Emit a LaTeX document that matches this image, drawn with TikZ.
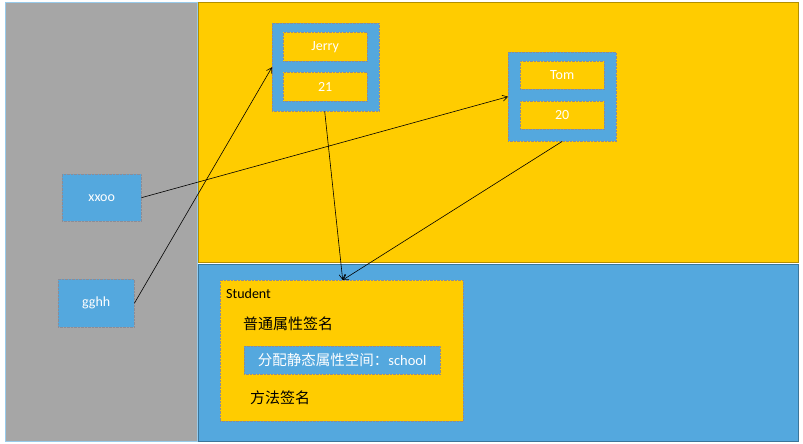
\documentclass[tikz,border=0pt]{standalone}
\usepackage{fontspec}
\setmainfont{Carlito}
\newfontfamily\cjk{Noto Sans CJK SC}
\usetikzlibrary{positioning,arrows.meta,calc}
\definecolor{PanelGray}{RGB}{166,166,166}
\definecolor{PanelYellow}{RGB}{255,204,0}
\definecolor{PanelBlue}{RGB}{84,168,222}
\definecolor{EdgeGray}{RGB}{140,140,150}
\tikzset{heap layout/.style={%
    y=-1pt,
    x=1pt,
    every node/.style={%
        inner sep=0pt, font=\fontsize{14}{16}\selectfont
    },
    ref/.style={%
        black, semithick, -{Straight Barb[length=5pt,width=6pt]}
    }
}}
\tikzset{cell/.style={%
    anchor=north west, draw=EdgeGray, densely dotted, text=white
}}
\tikzset{blue cell/.style={cell, fill=PanelBlue}}
\tikzset{yellow cell/.style={cell, fill=PanelYellow}}

\begin{document}
\begin{tikzpicture}[heap layout]
    \useasboundingbox (0,0) rectangle (803,444);
    % memory areas
    \node (stack) [cell, fill=PanelGray, draw=PanelBlue!60, solid, minimum width=192pt, minimum height=439pt] at (5,2) {};
    \node (heap) [cell, fill=PanelYellow, draw=PanelYellow!70!black, solid, minimum width=600pt, minimum height=260pt] at (198,2) {};
    \node (method) [cell, fill=PanelBlue, draw=PanelBlue!70!black, solid, minimum width=600pt, minimum height=177pt] at (198,264) {};

    % objects in the heap
    \node (jerry) [blue cell, minimum width=107pt, minimum height=88pt] at (272,23) {};
    \node (jname) [yellow cell, minimum width=84pt, minimum height=29pt] at (283,32) {Jerry};
    \node (jage) [yellow cell, minimum width=84pt, minimum height=29pt] at (283,72) {21};
    \node (tom) [blue cell, minimum width=108pt, minimum height=89pt] at (508,52) {};
    \node (tname) [yellow cell, minimum width=84pt, minimum height=28pt] at (520,61) {Tom};
    \node (tage) [yellow cell, minimum width=84pt, minimum height=28pt] at (520,101) {20};

    % references on the stack
    \node (xxoo) [blue cell, minimum width=79pt, minimum height=47pt] at (62,174) {xxoo};
    \node (gghh) [blue cell, minimum width=76pt, minimum height=48pt] at (58,279) {gghh};

    % class area
    \node (student) [yellow cell, minimum width=243pt, minimum height=141pt] at (220,280) {};
    \node (sname) [anchor=west] at (226,294) {Student};
    \node (fields) [anchor=west, font=\cjk\fontsize{15}{17}\selectfont] at (243,324) {普通属性签名};
    \node (static) [blue cell, minimum width=196pt, minimum height=28pt, font=\cjk\fontsize{14.5}{17}\selectfont] at (244,346) {分配静态属性空间：\rmfamily school};
    \node (methods) [anchor=west, font=\cjk\fontsize{15}{17}\selectfont] at (250,398) {方法签名};

    \draw[ref] (xxoo.east) -- (tom.west);
    \draw[ref] (gghh.east) -- (jerry.west);
    \draw[ref] ($(jerry.south)+(-1,0)$) -- ($(student.north)+(1,0)$);
    \draw[ref] (tom.south) -- ($(student.north)+(1,0)$);
\end{tikzpicture}
\end{document}
